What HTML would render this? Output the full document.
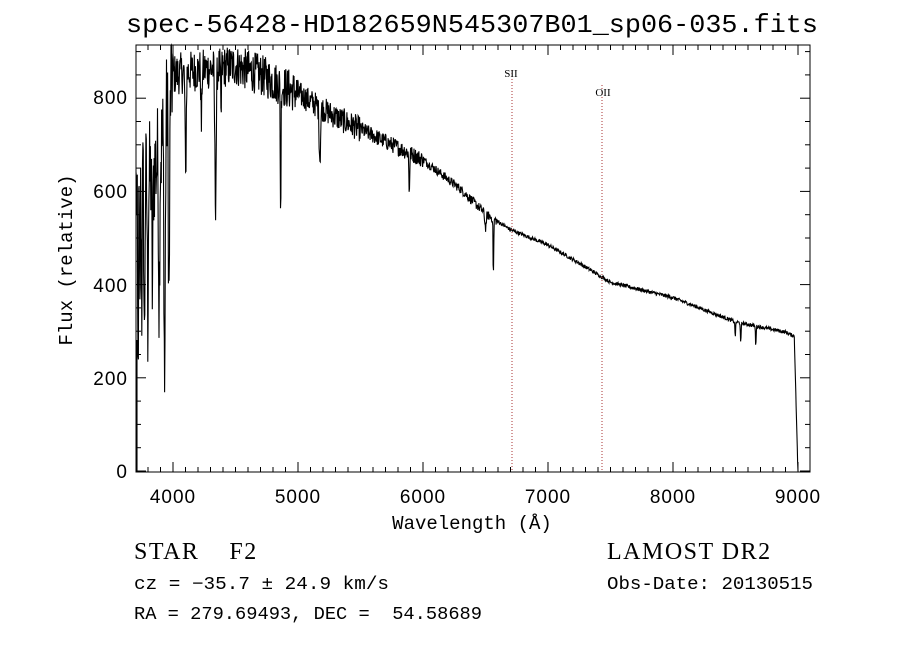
<!DOCTYPE html>
<html><head><meta charset="utf-8"><style>
body{margin:0;background:#fff;width:900px;height:649px;overflow:hidden}
svg{display:block}
text{fill:#000}
</style></head><body>
<svg id="s" width="900" height="649" xmlns="http://www.w3.org/2000/svg">
<text x="472" y="32" font-family="Liberation Mono, monospace" font-size="26" text-anchor="middle" textLength="692" lengthAdjust="spacingAndGlyphs">spec-56428-HD182659N545307B01_sp06-035.fits</text>
<g id="ax" stroke="#000" stroke-width="1" fill="none"></g>
<path id="sp" stroke="#000" stroke-width="1.1" fill="none"/>
<line x1="512" y1="70" x2="512" y2="472" stroke="#a33" stroke-width="1" stroke-dasharray="1,2"/>
<line x1="602" y1="85" x2="602" y2="472" stroke="#a33" stroke-width="1" stroke-dasharray="1,2"/>
<text x="511" y="77" font-family="Liberation Serif, serif" font-size="11" text-anchor="middle">SII</text>
<text x="603" y="96" font-family="Liberation Serif, serif" font-size="11" text-anchor="middle">OII</text>
<g font-family="Liberation Sans, sans-serif" font-size="19" text-anchor="middle" letter-spacing="1">
<text x="173" y="503">4000</text><text x="298" y="503">5000</text><text x="423" y="503">6000</text>
<text x="548" y="503">7000</text><text x="673" y="503">8000</text><text x="798" y="503">9000</text>
</g>
<g font-family="Liberation Sans, sans-serif" font-size="19" text-anchor="end" letter-spacing="1">
<text x="128" y="478">0</text><text x="128" y="385">200</text><text x="128" y="292">400</text>
<text x="128" y="198">600</text><text x="128" y="104">800</text>
</g>
<text x="472" y="529" font-family="Liberation Mono, monospace" font-size="19" text-anchor="middle">Wavelength (Å)</text>
<text transform="translate(72,260) rotate(-90)" font-family="Liberation Mono, monospace" font-size="19" text-anchor="middle">Flux (relative)</text>
<text x="134" y="559" font-family="Liberation Serif, serif" font-size="24" letter-spacing="1.5" xml:space="preserve">STAR    F2</text>
<text x="607" y="559" font-family="Liberation Serif, serif" font-size="24" letter-spacing="1.5">LAMOST DR2</text>
<text x="134" y="589" font-family="Liberation Mono, monospace" font-size="18" textLength="255" lengthAdjust="spacingAndGlyphs">cz = −35.7 ± 24.9 km/s</text>
<text x="607" y="589" font-family="Liberation Mono, monospace" font-size="18" textLength="206" lengthAdjust="spacingAndGlyphs">Obs-Date: 20130515</text>
<text x="134" y="619" font-family="Liberation Mono, monospace" font-size="18" xml:space="preserve" textLength="348" lengthAdjust="spacingAndGlyphs">RA = 279.69493, DEC =  54.58689</text>
</svg>
<script>
var L=136,R=810,T=45,B=472;
function X(l){return 173+(l-4000)*0.125}
function Y(f){return 471-f*0.466}
var ax=document.getElementById('ax'),h='<rect x="'+L+'" y="'+T+'" width="'+(R-L)+'" height="'+(B-T)+'"/>';
for(var l=3800;l<=9000;l+=100){var x=X(l),m=l%1000==0?10:5;h+='<line x1="'+x+'" y1="'+B+'" x2="'+x+'" y2="'+(B-m)+'"/><line x1="'+x+'" y1="'+T+'" x2="'+x+'" y2="'+(T+m)+'"/>';}
for(var f=0;f<=900;f+=50){var y=Y(f),m=f%200==0?10:5;h+='<line x1="'+L+'" y1="'+y+'" x2="'+(L+m)+'" y2="'+y+'"/><line x1="'+R+'" y1="'+y+'" x2="'+(R-m)+'" y2="'+y+'"/>';}
ax.innerHTML=h;
var ck=[[3705,600],[3800,620],[3900,680],[3990,850],[4200,860],[4500,870],[4700,850],[5000,810],[5300,760],[5600,720],[6000,668],[6300,605],[6500,552],[6700,518],[7000,485],[7250,446],[7500,405],[8000,372],[8500,320],[8900,298],[8960,290]];
function cont(l){for(var i=0;i<ck.length-1;i++){if(l<=ck[i+1][0]){var a=ck[i],b=ck[i+1],t=(l-a[0])/(b[0]-a[0]);return a[1]+t*(b[1]-a[1]);}}return 290}
var lines=[[3720,400,5],[3735,300,4],[3750,250,4],[3771,350,5],[3798,300,5],[3835,250,6],[3889,300,6],[3933,560,7],[3968,450,7],[4101,230,6],[4227,120,5],[4340,290,8],[4384,120,4],[4861,280,4],[5175,110,8],[5890,80,5],[6563,120,4],[6500,30,8],[8498,30,4],[8542,45,4],[8662,40,4]];
var s=12345;function rnd(){s=(s*1103515245+12345)%2147483648;return s/2147483648-0.5}
var d='';
for(var l=3705;l<=9000;l+=3){
 var f=cont(l);
 var amp=l<4000?260:l<5000?90:l<5500?55:l<6000?35:l<6600?20:8;
 f+=rnd()*amp;
 for(var k=0;k<lines.length;k++){var q=lines[k],z=(l-q[0])/q[2];f-=q[1]*Math.exp(-z*z);}
 if(l>8970)f=290-(l-8970)*10;
 if(f<0)f=0;if(f>914)f=914;
 d+=(d?'L':'M')+X(l).toFixed(1)+','+Y(f).toFixed(1);
}
d+='M137,471L137,340';
document.getElementById('sp').setAttribute('d',d);
</script>
</body></html>
